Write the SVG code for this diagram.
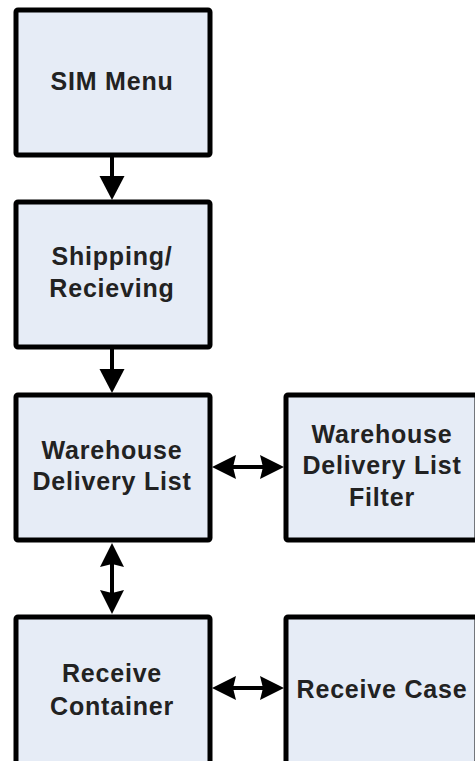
<svg xmlns="http://www.w3.org/2000/svg" width="475" height="761" viewBox="0 0 475 761">
  <style>
    .box { fill: #e6ecf6; stroke: #000; stroke-width: 5; }
    .label { font-family: "Liberation Sans", Arial, sans-serif; font-weight: bold; font-size: 25px; letter-spacing: 0.8px; fill: #222; text-anchor: middle; }
    .link { stroke: #000; stroke-width: 4; fill: none; }
    .one { marker-end: url(#head); }
    .two { marker-start: url(#head2); marker-end: url(#head2); }
  </style>
  <defs>
    <marker id="head" markerUnits="userSpaceOnUse" markerWidth="26" markerHeight="26" viewBox="0 0 24 26" refX="0" refY="13" orient="auto">
      <path d="M0,0.5 L24,13 L0,25.5 z" fill="#000"/>
    </marker>
    <marker id="head2" markerUnits="userSpaceOnUse" markerWidth="24" markerHeight="25" viewBox="0 0 24 25" refX="4" refY="12.5" orient="auto-start-reverse">
      <path d="M0,0.5 L24,12.5 L0,24.5 L3,12.5 z" fill="#000"/>
    </marker>
  </defs>

  <rect width="475" height="761" fill="#fff"/>

  <g id="connectors">
    <line class="link one" x1="112" y1="157" x2="112" y2="176"/>
    <line class="link one" x1="112" y1="349" x2="112" y2="369"/>
    <line class="link two" x1="112" y1="563" x2="112" y2="594"/>
    <line class="link two" x1="232" y1="467" x2="264" y2="467"/>
    <line class="link two" x1="232" y1="688" x2="264" y2="688"/>
  </g>

  <g id="sim-menu">
    <rect class="box" x="16" y="10" width="194" height="145" rx="2"/>
    <text class="label" x="112" y="90">SIM Menu</text>
  </g>

  <g id="shipping-receiving">
    <rect class="box" x="16" y="202" width="194" height="145" rx="2"/>
    <text class="label" x="112" y="265">Shipping/</text>
    <text class="label" x="112" y="297">Recieving</text>
  </g>

  <g id="warehouse-delivery-list">
    <rect class="box" x="16" y="395" width="194" height="145" rx="2"/>
    <text class="label" x="112" y="459">Warehouse</text>
    <text class="label" x="112" y="490">Delivery List</text>
  </g>

  <g id="warehouse-delivery-list-filter">
    <rect class="box" x="286" y="395" width="191" height="145" rx="2"/>
    <text class="label" x="382" y="443">Warehouse</text>
    <text class="label" x="382" y="474">Delivery List</text>
    <text class="label" x="382" y="506">Filter</text>
  </g>

  <g id="receive-container">
    <rect class="box" x="16" y="617" width="194" height="160" rx="2"/>
    <text class="label" x="112" y="682">Receive</text>
    <text class="label" x="112" y="715">Container</text>
  </g>

  <g id="receive-case">
    <rect class="box" x="286" y="617" width="191" height="160" rx="2"/>
    <text class="label" x="382" y="698">Receive Case</text>
  </g>
</svg>
